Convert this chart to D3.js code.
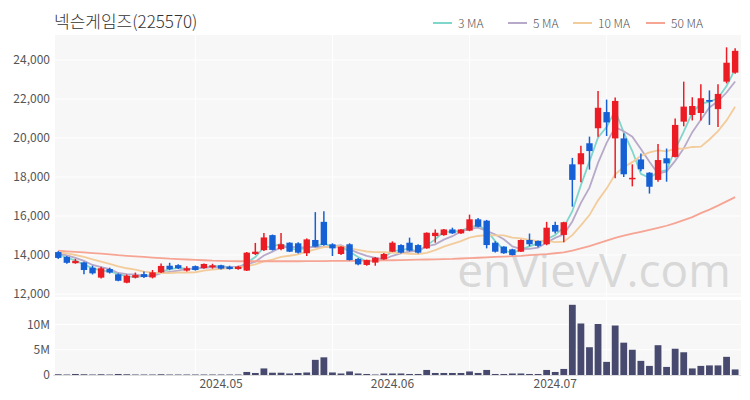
<!DOCTYPE html>
<html><head><meta charset="utf-8">
<script src="https://cdn.jsdelivr.net/npm/d3@7"></script>
<style>body{margin:0;background:#fff}svg{display:block}</style>
</head><body><svg id="c" width="750" height="400"></svg>
<script>
const title = "넥슨게임즈(225570)";
const dates = [
"04-03","04-04","04-05","04-08","04-09","04-11","04-12","04-15","04-16","04-17","04-18","04-19","04-22","04-23","04-24","04-25","04-26","04-29","04-30",
"05-02","05-03","05-07","05-08","05-09","05-10","05-13","05-14","05-16","05-17","05-20","05-21","05-22","05-23","05-24","05-27","05-28","05-29","05-30","05-31",
"06-03","06-04","06-05","06-07","06-10","06-11","06-12","06-13","06-14","06-17","06-18","06-19","06-20","06-21","06-24","06-25","06-26","06-27","06-28",
"07-01","07-02","07-03","07-04","07-05","07-08","07-09","07-10","07-11","07-12","07-15","07-16","07-17","07-18","07-19","07-22","07-23","07-24","07-25","07-26","07-29","07-30"];
const open  = [14150,13900,13580,13620,13350,12840,13280,13010,12580,12840,13020,12850,13110,13450,13480,13200,13430,13330,13370,13470,13400,13280,13200,14050,14250,15020,14300,14630,14600,14090,14770,15700,14550,14050,14550,13800,13490,13610,13780,14170,14510,14630,14510,14340,14970,15020,15310,15110,15250,15830,15760,14630,14430,14290,14170,14770,14720,14550,15540,15030,18650,18650,19730,20500,21330,19980,19980,17880,18900,18220,17850,18960,19030,20840,21180,21280,21950,21480,22890,23350];
const high  = [14200,13950,13800,13650,13450,13400,13350,13050,13000,13100,13150,13230,13560,13600,13520,13420,13460,13560,13550,13500,13450,13450,14150,14620,15130,15050,15130,14650,14650,14850,16200,16250,14600,14450,14600,13850,13760,13900,14100,14700,14550,14890,14550,15160,15310,15330,15400,15330,16070,15900,15800,14700,14450,14320,14800,15100,14750,15700,15700,15700,18980,19600,20070,22410,21970,22080,20240,18650,19200,18250,19690,19460,21000,22890,22090,22760,22440,22760,24650,24600];
const low   = [13800,13550,13550,13010,13000,12800,13050,12650,12550,12800,12820,12800,13080,13220,13280,13150,13200,13300,13300,13260,13250,13250,13180,14000,14200,14230,14250,14150,14080,13950,14400,14480,13950,14000,13720,13480,13450,13450,13760,14150,14080,14180,14080,14320,14630,14990,15080,15080,15220,15420,14340,14130,14060,13980,14150,14450,14400,14500,15100,14650,16480,17730,18380,20070,20100,17940,18000,17520,18300,17150,17760,17760,19000,20600,20900,20900,20670,20560,22800,23300];
const close = [13850,13600,13700,13230,13060,13320,13100,12680,12940,12970,12870,13110,13440,13270,13320,13320,13230,13540,13470,13300,13280,13400,14120,14170,14900,14260,14550,14170,14120,14800,14430,14510,14340,14430,13740,13520,13740,13860,14050,14630,14120,14220,14120,15140,15140,15310,15110,15310,15830,15450,14510,14170,14090,14000,14770,14550,14470,15400,15200,15680,17850,19220,19330,21550,20800,21900,18140,17960,18400,17500,18870,18700,20670,21610,21640,22040,21860,22260,23860,24470];
const volumeM = [0.15,0.1,0.2,0.15,0.1,0.15,0.1,0.2,0.15,0.1,0.1,0.1,0.15,0.1,0.1,0.1,0.1,0.1,0.1,0.1,0.1,0.1,0.6,0.4,1.3,0.45,0.45,0.3,0.4,0.5,3.0,3.5,0.5,0.3,0.7,0.3,0.2,0.1,0.3,0.3,0.3,0.2,0.2,1.0,0.4,0.4,0.4,0.4,0.7,0.4,1.0,0.2,0.2,0.3,0.3,0.2,0.2,1.0,0.6,1.2,13.9,10.2,5.5,10.1,2.6,9.8,6.4,5.0,2.8,1.8,5.9,1.6,5.2,4.5,1.3,1.8,1.9,1.9,3.6,1.1];
const ma3  = [14050,13870,13717,13510,13330,13203,13160,13033,12907,12863,12927,12983,13140,13273,13343,13303,13290,13363,13413,13437,13350,13327,13600,13897,14397,14443,14570,14327,14280,14363,14450,14580,14427,14427,14170,13897,13667,13707,13883,14180,14267,14323,14153,14493,14800,15197,15187,15243,15417,15530,15263,14710,14257,14087,14287,14440,14597,14807,15023,15427,16243,17583,18800,20033,20560,21417,20280,19333,18167,17953,18257,18357,19413,20327,21307,21763,21847,22053,22660,23530];
const ma5  = [14080,13980,13850,13700,13488,13382,13282,13078,13020,13002,12912,12914,13066,13132,13202,13292,13316,13336,13376,13372,13364,13398,13514,13654,13974,14170,14400,14410,14400,14380,14414,14406,14440,14502,14290,14108,13954,13858,13782,13960,14080,14176,14228,14446,14548,14786,14964,15202,15340,15402,15242,15054,14810,14444,14308,14316,14376,14638,14878,15060,15720,16670,17456,18726,19750,20560,20344,20070,19440,18780,18174,18286,18828,19470,20298,20932,21564,21882,22332,22898];
const ma10 = [14150,14080,14000,13900,13780,13660,13540,13420,13320,13245,13147,13098,13072,13076,13102,13102,13115,13201,13254,13287,13328,13357,13425,13515,13673,13767,13899,13962,14027,14177,14292,14403,14425,14451,14335,14261,14180,14149,14142,14125,14094,14065,14043,14114,14254,14433,14570,14715,14893,14975,15014,15009,15006,14892,14855,14779,14715,14724,14661,14684,15018,15523,16047,16802,17405,18140,18507,18763,19083,19265,19367,19315,19449,19455,19539,19553,19925,20356,20902,21599];
const ma50 = [14220,14190,14160,14130,14100,14070,14030,13990,13960,13930,13900,13870,13840,13810,13790,13770,13750,13730,13710,13700,13690,13680,13680,13680,13680,13680,13680,13680,13680,13690,13690,13690,13700,13700,13700,13700,13710,13710,13720,13730,13740,13750,13760,13770,13780,13790,13800,13820,13840,13860,13880,13900,13920,13940,13960,13990,14020,14050,14090,14130,14230,14340,14460,14600,14740,14880,14990,15090,15190,15290,15390,15500,15640,15790,15940,16150,16330,16530,16750,16970];
const priceTicks = [12000,14000,16000,18000,20000,22000,24000];
const volTicks = [0,5,10];
const volTickLabels = ["0","5M","10M"];
const monthTicks = ["05-02","06-03","07-01"];
const monthLabels = ["2024.05","2024.06","2024.07"];
const maNames = ["3 MA","5 MA","10 MA","50 MA"];
const maColors = ["#7fd6cb","#b7a9c9","#f3cc9b","#f6a493"];

const svg = d3.select("#c");
const font = "'Noto Sans CJK KR','Noto Sans',sans-serif";
const x = d3.scaleBand().domain(dates).range([52.7, 740.7]).padding(0.3);
const cx = d => x(d) + x.bandwidth()/2;
const y = d3.scaleLinear().domain([12000, 24000]).range([294, 60]);
const yv = d3.scaleLinear().domain([0, 10]).range([375, 324.5]);

// panels
svg.append("rect").attr("x",55).attr("y",35).attr("width",686).attr("height",262).attr("fill","#f7f7f7");
svg.append("rect").attr("x",55).attr("y",300).attr("width",686).attr("height",75).attr("fill","#f7f7f7");
// grid
svg.append("g").selectAll("line").data(priceTicks).join("line")
  .attr("x1",55).attr("x2",741).attr("y1",d=>y(d)).attr("y2",d=>y(d)).attr("stroke","#fff").attr("stroke-width",1);
svg.append("g").selectAll("line").data(volTicks).join("line")
  .attr("x1",55).attr("x2",741).attr("y1",d=>yv(d)).attr("y2",d=>yv(d)).attr("stroke","#fff").attr("stroke-width",1);
const vgrid = [dates[16],dates[32],dates[48],dates[64]];
svg.append("g").selectAll("line").data(vgrid).join("line")
  .attr("x1",d=>cx(d)).attr("x2",d=>cx(d)).attr("y1",35).attr("y2",375).attr("stroke","#fff").attr("stroke-width",1);

// watermark
svg.append("text").attr("x",594).attr("y",287).attr("text-anchor","middle")
  .attr("font-family","'Open Sans',sans-serif").attr("font-size",46).attr("fill","#d0d0d0").attr("fill-opacity",0.8)
  .text("enVievV.com");

// y axis
const yAxis = d3.axisLeft(y).tickValues(priceTicks).tickSize(0).tickPadding(5).tickFormat(d3.format(","));
const ga = svg.append("g").attr("transform","translate(55,0)").call(yAxis);
ga.select(".domain").remove();
ga.selectAll("text").attr("font-family",font).attr("font-size",12).attr("fill","#555");
const vAxis = d3.axisLeft(yv).tickValues(volTicks).tickSize(0).tickPadding(5).tickFormat((d,i)=>volTickLabels[i]);
const gv = svg.append("g").attr("transform","translate(55,0)").call(vAxis);
gv.select(".domain").remove();
gv.selectAll("text").attr("font-family",font).attr("font-size",12).attr("fill","#555");
// x axis
const xAxis = d3.axisBottom(x).tickValues(monthTicks).tickSize(0).tickPadding(4).tickFormat((d,i)=>monthLabels[i]);
const gx = svg.append("g").attr("transform","translate(0,375)").call(xAxis);
gx.select(".domain").attr("stroke","#ddd");
gx.selectAll("text").attr("font-family",font).attr("font-size",12).attr("fill","#555");

// volume bars
svg.append("g").selectAll("rect").data(dates).join("rect")
  .attr("x",(d,i)=>cx(d)-3.4).attr("width",6.8)
  .attr("y",(d,i)=>yv(volumeM[i])).attr("height",(d,i)=>yv(0)-yv(volumeM[i]))
  .attr("fill","#474a6e");

// MA lines
const mas = [ma3, ma5, ma10, ma50];
mas.forEach((arr,k)=>{
  const line = d3.line().x((d,i)=>cx(dates[i])).y(d=>y(d));
  svg.append("path").datum(arr).attr("d",line).attr("fill","none")
    .attr("stroke",maColors[k]).attr("stroke-width",1.8);
});

// candles
const up = "#ec1c24", dn = "#1660d6";
const g = svg.append("g");
dates.forEach((d,i)=>{
  const col = close[i] >= open[i] ? up : dn;
  g.append("line").attr("x1",cx(d)).attr("x2",cx(d)).attr("y1",y(high[i])).attr("y2",y(low[i]))
    .attr("stroke",col).attr("stroke-width",1.5);
  const top = y(Math.max(open[i],close[i])), bot = y(Math.min(open[i],close[i]));
  g.append("rect").attr("x",cx(d)-3.2).attr("width",6.4).attr("y",top).attr("height",Math.max(1.5,bot-top)).attr("fill",col);
});

// title
svg.append("text").attr("x",54).attr("y",28).attr("font-family",font).attr("font-size",17).attr("font-weight",300).attr("fill","#333").text(title);
// legend
const legX = [433,508,573,646];
maNames.forEach((n,k)=>{
  svg.append("line").attr("x1",legX[k]).attr("x2",legX[k]+19).attr("y1",23).attr("y2",23).attr("stroke",maColors[k]).attr("stroke-width",2);
  svg.append("text").attr("x",legX[k]+25).attr("y",27.5).attr("font-family",font).attr("font-size",12).attr("font-weight",300).attr("fill","#555").text(n);
});
</script></body></html>
